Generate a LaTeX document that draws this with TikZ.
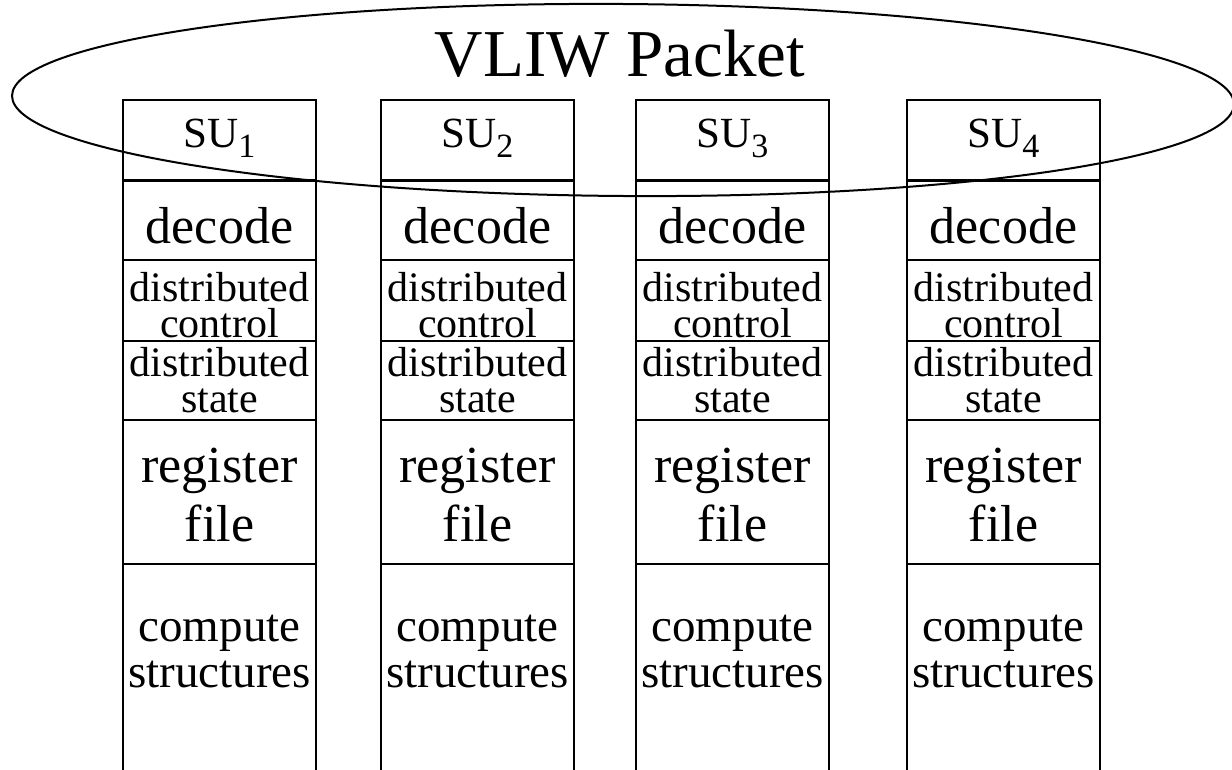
\documentclass[tikz,border=0pt]{standalone}
\usepackage{fontspec}
\setmainfont{Liberation Serif}
\begin{document}
\begin{tikzpicture}[x=1pt,y=-1pt,line width=2pt,
  lbl/.style={inner sep=0pt,align=center},
  sep/.style={line width=2.6pt}]
\useasboundingbox (0,0) rectangle (1232,770);
\clip (0,0) rectangle (1232,770);
% packet
\draw[rotate around={-0.4:(623,100)}] (623,100) ellipse [x radius=611,y radius=96];
\node[lbl,font=\fontsize{67}{70}\selectfont] (pkt) at (620,53.5) {VLIW Packet};
% the four units
\foreach \i/\x in {1/123,2/381,3/636,4/907}{
  \draw (\x,100) rectangle ++(193,80);
  \draw (\x,780) |- (\x+193,181.5) -- (\x+193,780);
  \foreach \y in {260,341,420,564} \draw[sep] (\x,\y) -- ++(193,0);
  \node[lbl,font=\fontsize{43}{48}\selectfont] (su\i) at (\x+96.5,138) {SU\raisebox{-10pt}{\fontsize{34}{34}\selectfont\i}};
  \node[lbl,font=\fontsize{52}{59}\selectfont] (dec\i) at (\x+96.5,225.3) {decode};
  \node[lbl,font=\fontsize{42}{36}\selectfont] (ctl\i) at (\x+96.5,305) {distributed\\control};
  \node[lbl,font=\fontsize{42}{36}\selectfont] (st\i) at (\x+96.5,380.6) {distributed\\state};
  \node[lbl,font=\fontsize{52}{59}\selectfont] (reg\i) at (\x+96.5,494.8) {register\\file};
  \node[lbl,font=\fontsize{47}{46}\selectfont] (cmp\i) at (\x+96.5,651.4) {compute\\structures};
}
\end{tikzpicture}
\end{document}
